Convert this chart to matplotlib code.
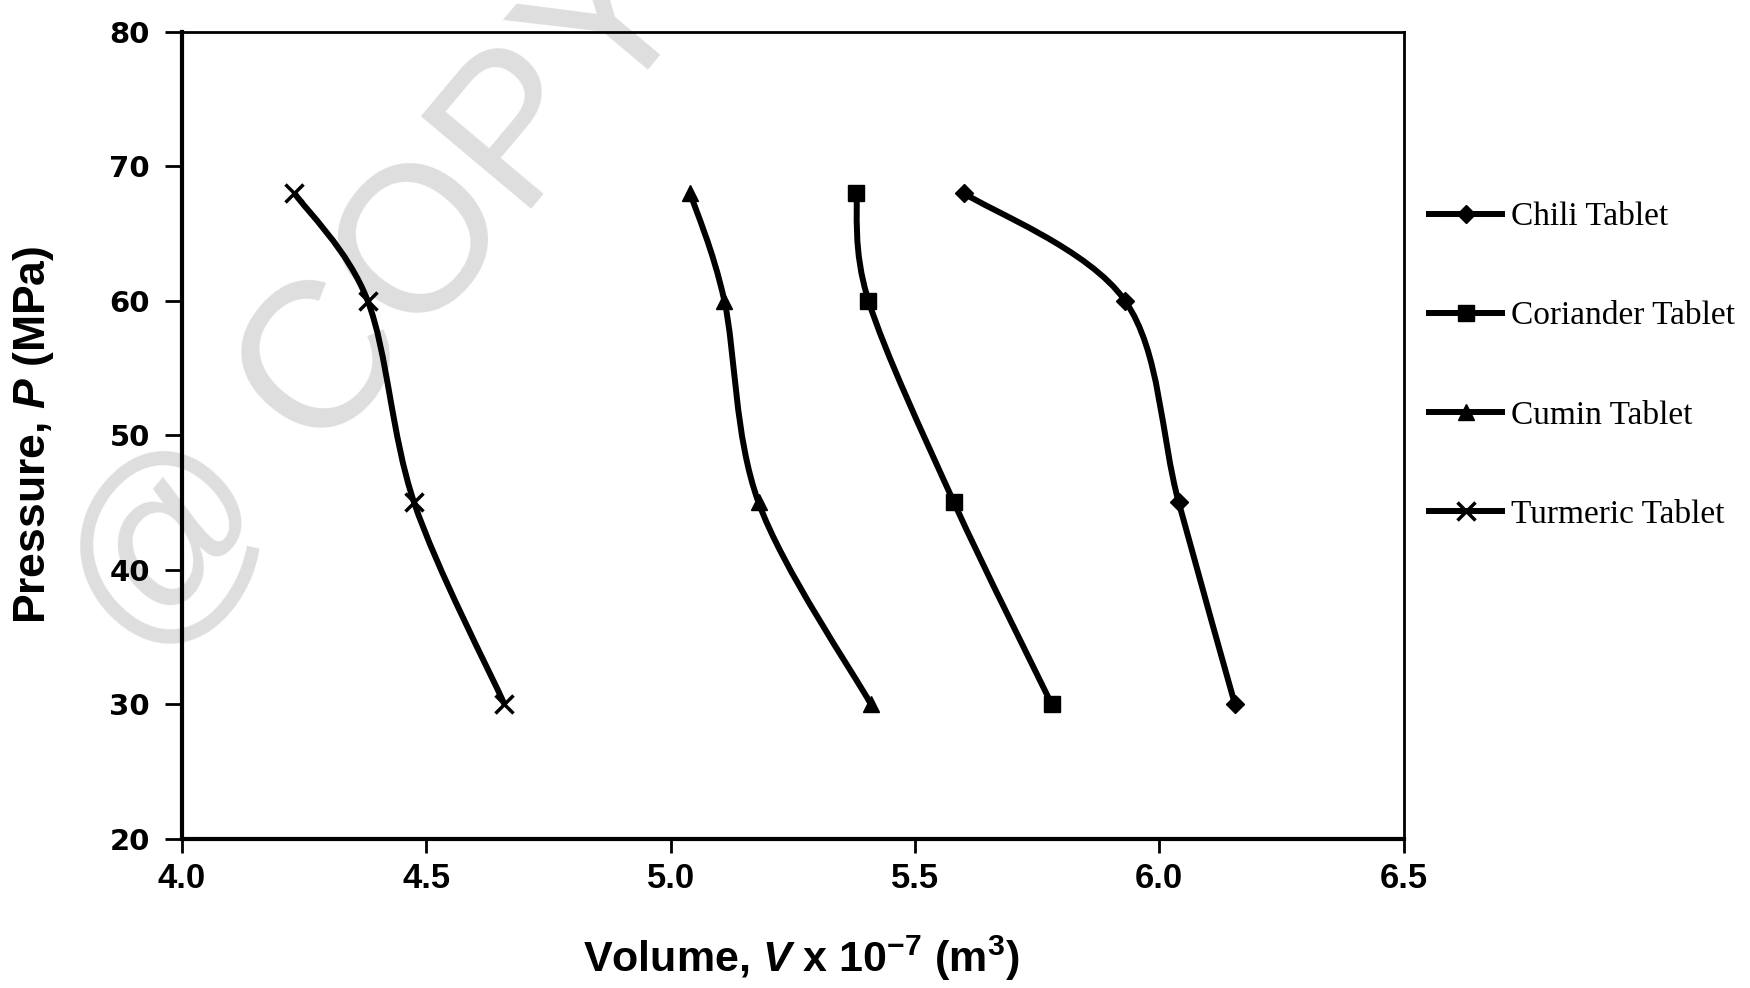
import matplotlib
matplotlib.use("Agg")
import matplotlib.pyplot as plt
from matplotlib.path import Path
from matplotlib.patches import PathPatch
from matplotlib.lines import Line2D
from matplotlib import font_manager
import numpy as np

plt.rcParams['mathtext.fontset'] = 'custom'
plt.rcParams['mathtext.rm'] = 'Liberation Sans:bold'
plt.rcParams['mathtext.it'] = 'Liberation Sans:bold:italic'
plt.rcParams['mathtext.bf'] = 'Liberation Sans:bold'

# Dados
pressao = [68, 60, 45, 30]
chili = [5.60, 5.93, 6.04, 6.155]
coriander = [5.38, 5.405, 5.58, 5.78]
cumin = [5.04, 5.11, 5.18, 5.41]
turmeric = [4.23, 4.38, 4.475, 4.66]

series = [
    ("Chili Tablet", chili, "D", 9),
    ("Coriander Tablet", coriander, "s", 11),
    ("Cumin Tablet", cumin, "^", 11),
    ("Turmeric Tablet", turmeric, "x", 13),
]

x_ticks = [4.0, 4.5, 5.0, 5.5, 6.0, 6.5]
y_ticks = [20, 30, 40, 50, 60, 70, 80]

# fonte estreita para os números do eixo x, se existir
nomes = {f.name for f in font_manager.fontManager.ttflist}
fonte_x = "Liberation Sans Narrow" if "Liberation Sans Narrow" in nomes else "Liberation Sans"


def curva_suave(ax, xs, ys, **kw):
    # curva tipo "smooth line" do Excel (Catmull-Rom -> Bezier), em pixels
    pts = ax.transData.transform(np.column_stack([xs, ys]))
    n = len(pts)
    verts = [pts[0]]
    codes = [Path.MOVETO]
    for i in range(n - 1):
        p0 = pts[i - 1] if i > 0 else pts[i]
        p1 = pts[i]
        p2 = pts[i + 1]
        p3 = pts[i + 2] if i + 2 < n else pts[i + 1]
        c1 = p1 + (p2 - p0) / 6.0
        c2 = p2 - (p3 - p1) / 6.0
        verts += [c1, c2, p2]
        codes += [Path.CURVE4] * 3
    verts = ax.transData.inverted().transform(np.array(verts))
    patch = PathPatch(Path(verts, codes), fill=False, transform=ax.transData, **kw)
    ax.add_patch(patch)


fig = plt.figure(figsize=(17.5, 9.88), dpi=100)
ax = fig.add_axes([0.104, 0.151, 0.698, 0.817])
ax.set_xlim(4.0, 6.5)
ax.set_ylim(20, 80)
ax.patch.set_alpha(0)

# marca d'água
fig.text(0.084, 0.325, "@ COPYRIGHT", fontsize=150, color="#dedede", rotation=50,
         rotation_mode="anchor", ha="left", va="baseline",
         family="Liberation Sans", zorder=-1)

handles = []
for nome, vals, mk, ms in series:
    curva_suave(ax, vals, pressao, edgecolor="black", lw=4.3, zorder=3)
    ax.plot(vals, pressao, ls="none", marker=mk, ms=ms, color="black",
            mew=2.5 if mk == "x" else 1, zorder=4)
    handles.append(Line2D([], [], color="black", lw=4.3, marker=mk, ms=ms,
                          mew=2.5 if mk == "x" else 1, label=nome))

ax.set_xticks(x_ticks)
ax.set_xticklabels([f"{v:.1f}" for v in x_ticks], family=fonte_x,
                   fontweight="bold", fontsize=25)
ax.set_yticks(y_ticks)
ax.set_yticklabels([str(v) for v in y_ticks], family="DejaVu Sans",
                   fontweight="bold", fontsize=21)
ax.tick_params(axis="x", direction="out", length=10, width=2, pad=7)
ax.tick_params(axis="y", direction="out", length=12, width=2, pad=11)

for s in ["left", "bottom"]:
    ax.spines[s].set_linewidth(3)
for s in ["top", "right"]:
    ax.spines[s].set_linewidth(2)

ax.set_xlabel("Volume, $V$ x 10$^{-7}$ (m$^{3}$)", family="Liberation Sans",
              fontweight="bold", fontsize=31)
ax.xaxis.set_label_coords(0.507, -0.117)
ax.set_ylabel("Pressure, $P$ (MPa)", family="Liberation Sans",
              fontweight="bold", fontsize=32)
ax.yaxis.set_label_coords(-0.103, 0.5)

leg = ax.legend(handles=handles, loc="center left", bbox_to_anchor=(1.021, 0.586),
                frameon=False, borderaxespad=0, borderpad=0, handlelength=2.2,
                handletextpad=0.27, labelspacing=2.06,
                prop={"family": "Liberation Serif", "size": 24})

fig.savefig("out.png", dpi=100, facecolor="white")
